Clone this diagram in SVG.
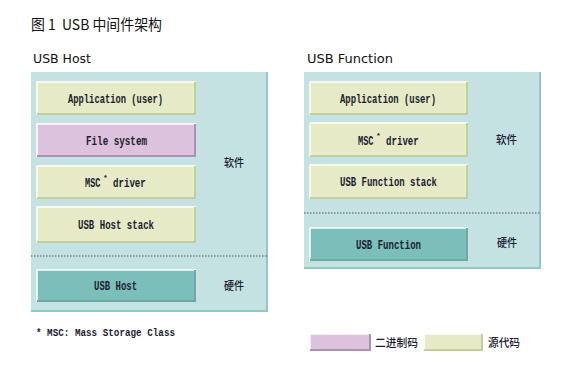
<svg xmlns="http://www.w3.org/2000/svg" width="575" height="385" viewBox="0 0 575 385">
<style>
.panel{fill:#c5e2e2;}
.pedge{stroke:#8ecac4;stroke-width:2;fill:none;}
.src{fill:#e6eac6;}
.bin{fill:#dcc2dc;}
.hw{fill:#7cbfba;}
.hl{stroke:#ffffff;stroke-width:1.5;fill:none;}
.shsrc{stroke:#c5cf94;stroke-width:2;fill:none;}
.shbin{stroke:#b48cb8;stroke-width:2;fill:none;}
.shhw{stroke:#6aa9a4;stroke-width:2;fill:none;}
.lbl{font-family:"Liberation Mono","DejaVu Sans Mono",monospace;font-size:12px;font-weight:bold;fill:#1c1c30;}
.sup{font-family:"Liberation Mono","DejaVu Sans Mono",monospace;font-size:8px;font-weight:bold;fill:#1c1c30;}
.cjk{font-family:"Noto Sans CJK SC","Noto Sans",sans-serif;font-size:11.5px;font-weight:500;fill:#1c1c30;}
.head{font-family:"DejaVu Sans","Noto Sans",sans-serif;font-size:13px;fill:#111;}
.dot{stroke:#555;stroke-width:1;stroke-dasharray:1.5 1.5;}
</style>
<rect width="575" height="385" fill="#ffffff"/>
<text x="31" y="30" textLength="131" lengthAdjust="spacingAndGlyphs" style="font-family:'Noto Sans CJK SC','Noto Sans',sans-serif;font-size:14.5px;fill:#111;" xml:space="preserve">图 1  USB 中间件架构</text>

<g id="host-panel">
<text class="head" x="33" y="63" textLength="58" lengthAdjust="spacingAndGlyphs">USB Host</text>
<rect class="panel" x="31" y="72" width="237" height="240"/>
<path class="pedge" d="M267 72 V311 H31"/>
<line class="dot" x1="31" y1="256" x2="268" y2="256"/>
<text class="cjk" x="224" y="167" textLength="20" lengthAdjust="spacingAndGlyphs">软件</text>
<text class="cjk" x="224" y="290" textLength="20" lengthAdjust="spacingAndGlyphs">硬件</text>
</g>

<g id="host-app">
<rect class="src" x="37" y="82" width="159" height="33"/>
<path class="hl" d="M37 115 V82 H196"/><path class="shsrc" d="M195 82 V114 H37"/>
<text class="lbl" x="68" y="102.5" textLength="95" lengthAdjust="spacingAndGlyphs">Application (user)</text>
</g>
<g id="host-fs">
<rect class="bin" x="37" y="124" width="159" height="33"/>
<path class="hl" d="M37 157 V124 H196"/><path class="shbin" d="M195 124 V156 H37"/>
<text class="lbl" x="86" y="144.5" textLength="61" lengthAdjust="spacingAndGlyphs">File system</text>
</g>
<g id="host-msc">
<rect class="src" x="37" y="166" width="159" height="33"/>
<path class="hl" d="M37 199 V166 H196"/><path class="shsrc" d="M195 166 V198 H37"/>
<text class="lbl" transform="translate(85,186.5) scale(0.72,1)">MSC</text>
<text class="sup" x="103" y="180">*</text>
<text class="lbl" transform="translate(113,186.5) scale(0.76,1)">driver</text>
</g>
<g id="host-stack">
<rect class="src" x="37" y="207" width="159" height="36"/>
<path class="hl" d="M37 243 V207 H196"/><path class="shsrc" d="M195 207 V242 H37"/>
<text class="lbl" x="78" y="229" textLength="76" lengthAdjust="spacingAndGlyphs">USB Host stack</text>
</g>
<g id="host-hw">
<rect class="hw" x="37" y="270" width="159" height="32"/>
<path class="hl" d="M37 302 V270 H196"/><path class="shhw" d="M195 270 V301 H37"/>
<text class="lbl" x="94" y="290" textLength="43" lengthAdjust="spacingAndGlyphs">USB Host</text>
</g>

<g id="func-panel">
<text class="head" x="307" y="63" textLength="86" lengthAdjust="spacingAndGlyphs">USB Function</text>
<rect class="panel" x="304" y="72" width="237" height="197"/>
<path class="pedge" d="M540 72 V268 H304"/>
<line class="dot" x1="304" y1="213" x2="541" y2="213"/>
<text class="cjk" x="496" y="144" textLength="21" lengthAdjust="spacingAndGlyphs">软件</text>
<text class="cjk" x="497" y="247" textLength="20" lengthAdjust="spacingAndGlyphs">硬件</text>
</g>

<g id="func-app">
<rect class="src" x="310" y="82" width="158" height="33"/>
<path class="hl" d="M310 115 V82 H468"/><path class="shsrc" d="M467 82 V114 H310"/>
<text class="lbl" x="340" y="102.5" textLength="96" lengthAdjust="spacingAndGlyphs">Application (user)</text>
</g>
<g id="func-msc">
<rect class="src" x="310" y="123" width="158" height="34"/>
<path class="hl" d="M310 157 V123 H468"/><path class="shsrc" d="M467 123 V156 H310"/>
<text class="lbl" transform="translate(358,144.5) scale(0.72,1)">MSC</text>
<text class="sup" x="376" y="138">*</text>
<text class="lbl" transform="translate(386,144.5) scale(0.76,1)">driver</text>
</g>
<g id="func-stack">
<rect class="src" x="310" y="165" width="158" height="34"/>
<path class="hl" d="M310 199 V165 H468"/><path class="shsrc" d="M467 165 V198 H310"/>
<text class="lbl" x="340" y="186" textLength="97" lengthAdjust="spacingAndGlyphs">USB Function stack</text>
</g>
<g id="func-hw">
<rect class="hw" x="310" y="228" width="158" height="33"/>
<path class="hl" d="M310 261 V228 H468"/><path class="shhw" d="M467 228 V260 H310"/>
<text class="lbl" x="356" y="248.5" textLength="65" lengthAdjust="spacingAndGlyphs">USB Function</text>
</g>

<g id="connectors"></g>

<g id="footnote">
<text class="lbl" x="36" y="336" style="font-size:11px" textLength="139" lengthAdjust="spacingAndGlyphs">* MSC: Mass Storage Class</text>
</g>

<g id="legend">
<rect class="bin" x="310" y="334" width="61" height="17"/>
<path class="hl" d="M310 351 V334 H371"/><path class="shbin" d="M370 334 V350 H310"/>
<text class="cjk" x="375" y="346.5" textLength="43" lengthAdjust="spacingAndGlyphs">二进制码</text>
<rect class="src" x="424" y="334" width="59" height="17"/>
<path class="hl" d="M424 351 V334 H483"/><path class="shsrc" d="M482 334 V350 H424"/>
<text class="cjk" x="488" y="346.5" textLength="32" lengthAdjust="spacingAndGlyphs">源代码</text>
</g>
</svg>
